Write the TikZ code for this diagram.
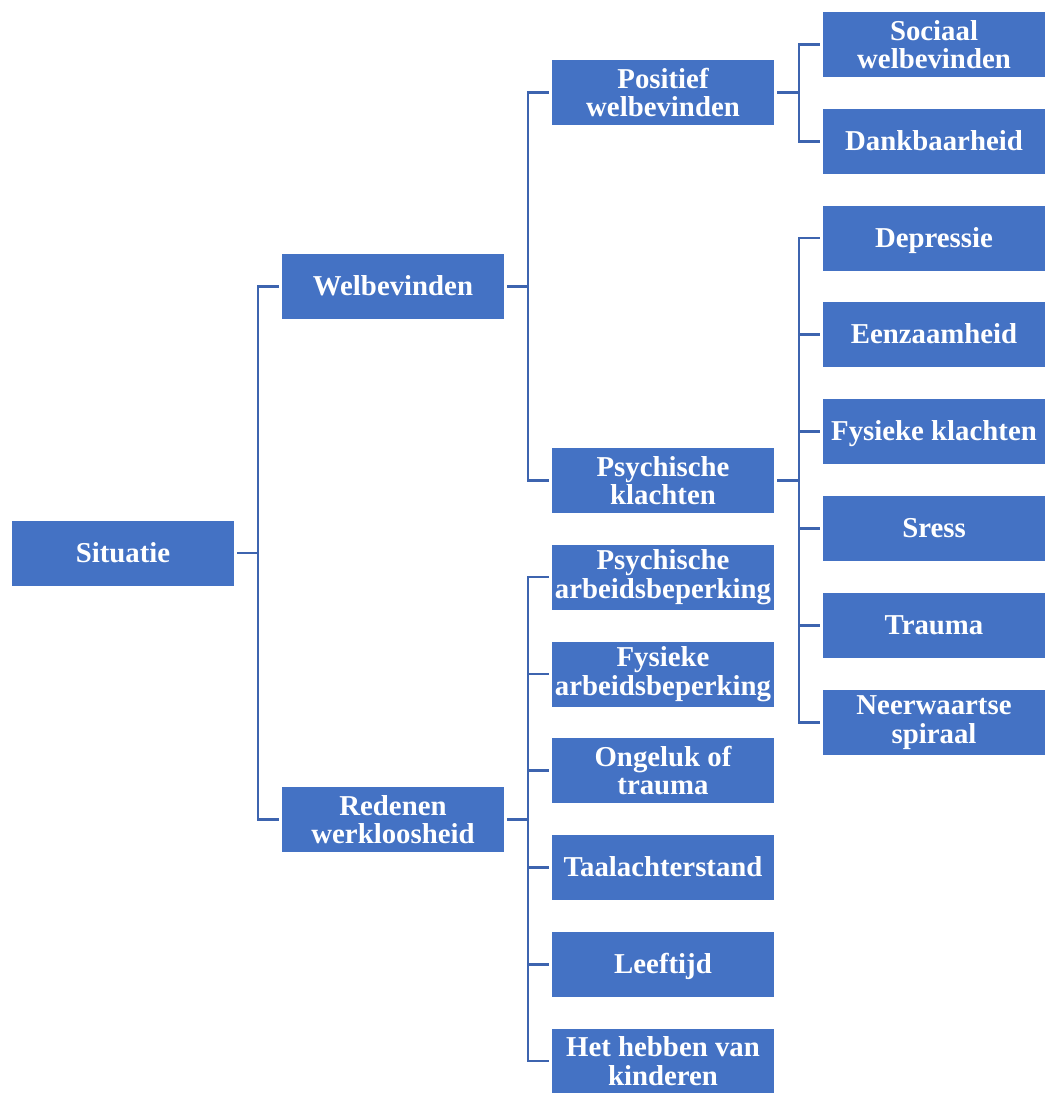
\documentclass[tikz,border=0pt]{standalone}
\usepackage{fontspec}
\setmainfont{Liberation Serif}
\usetikzlibrary{calc}
\definecolor{boxblue}{HTML}{4472C4}
\definecolor{lineblue}{HTML}{3D64AF}
\tikzset{
  box/.style={fill=boxblue, draw=none, text=white, inner sep=0pt,
    minimum width=166.5pt, minimum height=48.75pt, align=center,
    font=\fontsize{21.6pt}{21.4pt}\selectfont\bfseries},
  oneline/.style={box, text height=15.2pt, text depth=1.7pt},
  conn/.style={draw=lineblue, line width=1.7pt}
}
\begin{document}
\begin{tikzpicture}[x=0.75pt, y=-0.75pt]
\useasboundingbox (0,0) rectangle (1047,1093);

% root
\node[oneline] (sit) at (123,553) {Situatie};
% first level
\node[oneline] (wel) at (393,286.5) {Welbevinden};
\node[box] (red) at (393,819.5) {Redenen\\werkloosheid};
% second level
\node[box] (pos) at (663,92.5) {Positief\\welbevinden};
\node[box] (psy) at (663,480.5) {Psychische\\klachten};
\node[box] (pab) at (663,577) {Psychische\\arbeidsbeperking};
\node[box] (fab) at (663,674) {Fysieke\\arbeidsbeperking};
\node[box] (ong) at (663,770.5) {Ongeluk of\\trauma};
\node[oneline] (taal) at (663,867.5) {Taalachterstand};
\node[oneline] (leef) at (663,964.5) {Leeftijd};
\node[box] (kind) at (663,1061) {Het hebben van\\kinderen};
% third level
\node[box] (soc) at (934,44.5) {Sociaal\\welbevinden};
\node[oneline] (dank) at (934,141.5) {Dankbaarheid};
\node[oneline] (dep) at (934,238) {Depressie};
\node[oneline] (eenz) at (934,334.5) {Eenzaamheid};
\node[oneline] (fys) at (934,431.5) {Fysieke klachten};
\node[oneline] (sres) at (934,528.5) {Sress};
\node[oneline] (trau) at (934,625.5) {Trauma};
\node[box] (neer) at (934,722.5) {Neerwaartse\\spiraal};

% junction points of the bracket connectors
\coordinate (b0) at (258,553);
\coordinate (b1) at (528,286.5);
\coordinate (b2) at (528,819.5);
\coordinate (b3) at (799,92.5);
\coordinate (b4) at (799,480.5);

\draw[conn] ([xshift=2.25pt]sit.east) -- (b0);
\foreach \c in {wel,red}
  \draw[conn] (b0) |- ([xshift=-2.25pt]\c.west);

\draw[conn] ([xshift=2.25pt]wel.east) -- (b1);
\foreach \c in {pos,psy}
  \draw[conn] (b1) |- ([xshift=-2.25pt]\c.west);

\draw[conn] ([xshift=2.25pt]red.east) -- (b2);
\foreach \c in {pab,fab,ong,taal,leef,kind}
  \draw[conn] (b2) |- ([xshift=-2.25pt]\c.west);

\draw[conn] ([xshift=2.25pt]pos.east) -- (b3);
\foreach \c in {soc,dank}
  \draw[conn] (b3) |- ([xshift=-2.25pt]\c.west);

\draw[conn] ([xshift=2.25pt]psy.east) -- (b4);
\foreach \c in {dep,eenz,fys,sres,trau,neer}
  \draw[conn] (b4) |- ([xshift=-2.25pt]\c.west);
\end{tikzpicture}
\end{document}
